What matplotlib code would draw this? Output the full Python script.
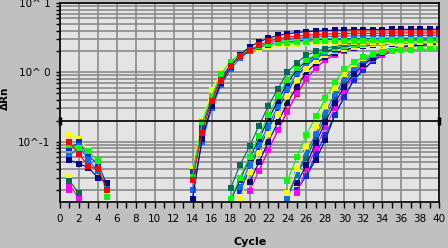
import numpy as np
import matplotlib
matplotlib.use('Agg')
import matplotlib.pyplot as plt
from matplotlib.ticker import MultipleLocator, FixedLocator, LogLocator, NullFormatter

# amplification data (delta Rn per cycle)
cycles = np.arange(1, 41)
threshold = 0.2

navy = '#000080'
red = '#ff0000'
green = '#00ff00'
dodger = '#0070ff'
blue = '#0030d0'
yellow = '#ffff00'
magenta = '#ff00ff'
teal = '#006a5a'

# early noise, cycles 1..5
early_a1 = [0.054, 0.048, 0.042, 0.030, 0.025]
early_a2 = [0.097, 0.066, 0.044, 0.040, 0.020]
early_a3 = [0.090, 0.080, 0.073, 0.052, 0.016]
early_a4 = [0.062, 0.085, 0.055, 0.037, 0.022]
early_a5 = [0.080, 0.097, 0.061, 0.048, 0.023]
early_a6 = [0.126, 0.110, 0.075, 0.050, None]
early_b1 = [0.027, 0.018, None, None, None]
early_b6 = [0.024, 0.0148, None, None, None]
early_c2 = [0.032, 0.012, None, None, None]
early_c6 = [0.020, None, None, None, None]

# group A, from cycle 14
a_start = 14
a1 = [0.015, 0.11, 0.33, 0.70, 1.20, 1.80, 2.30, 2.75, 3.10, 3.40, 3.60, 3.75, 3.85, 3.95,
      4.00, 4.05, 4.08, 4.10, 4.12, 4.13, 4.14, 4.15, 4.16, 4.17, 4.18, 4.18, 4.19]
a2 = [0.028, 0.135, 0.39, 0.75, 1.22, 1.72, 2.08, 2.45, 2.80, 3.05, 3.20, 3.32, 3.42, 3.50,
      3.55, 3.60, 3.62, 3.65, 3.66, 3.64, 3.68, 3.67, 3.69, 3.70, 3.68, 3.70, 3.71]
a3 = [0.031, 0.19, 0.45, 0.95, 1.42, 1.85, 2.15, 2.38, 2.52, 2.62, 2.68, 2.73, 2.76, 2.79,
      2.81, 2.83, 2.85, 2.86, 2.87, 2.88, 2.89, 2.90, 2.90, 2.91, 2.92, 2.92, 2.93]
a4 = [0.020, 0.10, 0.30, 0.65, 1.10, 1.60, 2.00, 2.35, 2.65, 2.85, 3.00, 3.10, 3.18, 3.24,
      3.28, 3.31, 3.33, 3.35, 3.36, 3.37, 3.38, 3.39, 3.40, 3.40, 3.41, 3.41, 3.42]
a5 = [0.036, 0.16, 0.42, 0.82, 1.28, 1.70, 2.02, 2.30, 2.50, 2.65, 2.76, 2.84, 2.90, 2.95,
      2.99, 3.02, 3.04, 3.06, 3.07, 3.08, 3.09, 3.10, 3.11, 3.11, 3.12, 3.12, 3.13]
a6 = [0.040, 0.20, 0.55, 0.98, 1.40, 1.75, 2.00, 2.20, 2.35, 2.45, 2.52, 2.57, 2.61, 2.64,
      2.66, 2.68, 2.69, 2.70, 2.71, 2.72, 2.72, 2.73, 2.73, 2.74, 2.74, 2.75, 2.75]

# group B
b1_start, b1 = 18, [0.021, 0.046, 0.085, 0.17, 0.33, 0.58, 1.00, 1.38, 1.76, 2.00, 2.20, 2.38,
                    2.52, 2.63, 2.72, 2.79, 2.84, 2.88, 2.91, 2.93, 2.95, 2.96, 2.97]
b2_start, b2 = 18, [0.015, 0.030, 0.060, 0.12, 0.24, 0.45, 0.78, 1.15, 1.50, 1.80, 2.05, 2.25,
                    2.40, 2.50, 2.58, 2.64, 2.68, 2.71, 2.73, 2.75, 2.76, 2.77, 2.78]
b8_start, b8 = 18, [0.014, 0.028, 0.057, 0.11, 0.21, 0.39, 0.70, 1.10, 1.45, 1.75, 2.00, 2.20,
                    2.36, 2.48, 2.57, 2.63, 2.68, 2.72, 2.75, 2.77, 2.79, 2.80, 2.81]
b3_start, b3 = 19, [0.022, 0.046, 0.09, 0.17, 0.33, 0.58, 0.97, 1.35, 1.65, 1.90, 2.12, 2.30,
                    2.44, 2.55, 2.63, 2.69, 2.74, 2.78, 2.81, 2.83, 2.85, 2.86]
b4_start, b4 = 19, [0.015, 0.036, 0.068, 0.13, 0.25, 0.45, 0.77, 1.12, 1.45, 1.75, 2.00, 2.20,
                    2.35, 2.45, 2.53, 2.58, 2.62, 2.65, 2.67, 2.69, 2.70, 2.71]
b7_start, b7 = 19, [0.019, 0.040, 0.08, 0.15, 0.29, 0.52, 0.88, 1.25, 1.60, 1.90, 2.15, 2.35,
                    2.50, 2.60, 2.68, 2.74, 2.78, 2.81, 2.83, 2.85, 2.86, 2.87]
b5_start, b5 = 20, [0.026, 0.05, 0.10, 0.19, 0.36, 0.62, 1.00, 1.35, 1.65, 1.90, 2.10, 2.25,
                    2.37, 2.46, 2.53, 2.58, 2.62, 2.65, 2.67, 2.69, 2.70]
b6_start, b6 = 20, [0.019, 0.038, 0.076, 0.145, 0.27, 0.50, 0.80, 1.15, 1.50, 1.80, 2.05, 2.25,
                    2.40, 2.50, 2.58, 2.64, 2.68, 2.71, 2.73, 2.75, 2.76]
b9_start, b9 = 21, [0.038, 0.076, 0.145, 0.28, 0.48, 0.80, 1.15, 1.50, 1.82, 2.10, 2.32, 2.50,
                    2.62, 2.72, 2.79, 2.84, 2.88, 2.90, 2.92, 2.93]

# group C
c1_start, c1 = 24, [0.027, 0.060, 0.126, 0.23, 0.42, 0.72, 1.10, 1.40, 1.65, 1.85, 1.98, 2.06,
                    2.10, 2.13, 2.15, 2.16, 2.17]
c2_start, c2 = 24, [0.018, 0.040, 0.085, 0.17, 0.33, 0.60, 0.95, 1.30, 1.60, 1.85, 2.02, 2.15,
                    2.22, 2.27, 2.30, 2.32, 2.33]
c3_start, c3 = 24, [0.015, 0.033, 0.068, 0.13, 0.26, 0.48, 0.80, 1.15, 1.50, 1.80, 2.05, 2.25,
                    2.38, 2.47, 2.53, 2.57, 2.60]
c7_start, c7 = 24, [0.016, 0.035, 0.057, 0.115, 0.22, 0.42, 0.70, 1.05, 1.40, 1.70, 1.95, 2.15,
                    2.30, 2.40, 2.47, 2.52, 2.55]
c4_start, c4 = 25, [0.025, 0.046, 0.096, 0.19, 0.36, 0.62, 0.95, 1.30, 1.62, 1.90, 2.12, 2.28,
                    2.40, 2.48, 2.53, 2.57]
c5_start, c5 = 25, [0.020, 0.032, 0.065, 0.126, 0.24, 0.44, 0.77, 1.07, 1.45, 1.75, 2.00, 2.20,
                    2.35, 2.45, 2.52, 2.56]
c6_start, c6 = 25, [0.018, 0.040, 0.080, 0.16, 0.30, 0.55, 0.90, 1.25, 1.55, 1.80, 2.00, 2.15,
                    2.25, 2.32, 2.36, 2.39]
c8_start, c8 = 26, [0.032, 0.055, 0.105, 0.24, 0.44, 0.77, 1.10, 1.45, 1.75, 2.00, 2.20, 2.35,
                    2.45, 2.52, 2.56]


def make_well(start, values, early=None):
    # full 40 cycle trace, NaN where nothing is plotted
    y = np.full(len(cycles), np.nan)
    if early is not None:
        for i, v in enumerate(early):
            if v is not None:
                y[i] = v
    y[start - 1:start - 1 + len(values)] = values
    return y


wells = [
    (c8_start, c8, None, navy),
    (c5_start, c5, None, blue),
    (c7_start, c7, None, teal),
    (c6_start, c6, early_c6, magenta),
    (c4_start, c4, None, navy),
    (c3_start, c3, None, dodger),
    (c2_start, c2, early_c2, yellow),
    (c1_start, c1, None, green),
    (b9_start, b9, None, red),
    (b6_start, b6, early_b6, magenta),
    (b5_start, b5, None, navy),
    (b7_start, b7, None, blue),
    (b4_start, b4, None, yellow),
    (b3_start, b3, None, dodger),
    (b8_start, b8, None, navy),
    (b2_start, b2, None, green),
    (b1_start, b1, early_b1, teal),
    (a_start, a6, early_a6, yellow),
    (a_start, a5, early_a5, blue),
    (a_start, a4, early_a4, dodger),
    (a_start, a3, early_a3, green),
    (a_start, a1, early_a1, navy),
    (a_start, a2, early_a2, red),
]

fig = plt.figure(figsize=(4.48, 2.48), dpi=100)
fig.patch.set_facecolor('#c0c0c0')
ax = fig.add_axes([60 / 448, 46 / 248, 379 / 448, 199 / 248])
ax.set_facecolor('#e4e4e4')

for start, values, early, color in wells:
    ax.plot(cycles, make_well(start, values, early), color=color, lw=0.8,
            marker='s', ms=5, mew=0)

# threshold line with the little handles on both ends
ax.plot([0, 40], [threshold, threshold], color='black', lw=1.1, zorder=5)
ax.plot([0, 40], [threshold, threshold], ls='none', marker='|', ms=6, mew=2.5,
        color='black', clip_on=False, zorder=6)

ax.set_yscale('log')
ax.set_xlim(0, 40)
ax.set_ylim(0.0134, 10)

ax.xaxis.set_major_locator(MultipleLocator(2))
ax.xaxis.set_minor_locator(MultipleLocator(1))
ax.yaxis.set_major_locator(FixedLocator([0.1, 1, 10]))
ax.set_yticklabels(['10^-1', '10^ 0', '10^ 1'])
ax.yaxis.set_minor_locator(LogLocator(base=10, subs=np.arange(2, 10)))
ax.yaxis.set_minor_formatter(NullFormatter())

ax.grid(True, which='major', axis='x', color='#8a8a8a', lw=1.2)
ax.grid(True, which='both', axis='y', color='#8a8a8a', lw=1.2)
ax.set_axisbelow(True)

ax.tick_params(axis='both', which='both', direction='out', color='black', width=1,
               labelsize=7.5, labelcolor='black')
ax.tick_params(axis='x', which='both', length=4, pad=5)
ax.tick_params(axis='y', which='both', length=3, pad=4)
for s in ax.spines.values():
    s.set_color('black')
    s.set_linewidth(1.2)

fig.text(5 / 448, 1 - 98 / 248, 'ΔRn', rotation=90, ha='center', va='center',
         fontsize=7.5, fontweight='bold')
fig.text(250 / 448, 1 - 242 / 248, 'Cycle', ha='center', va='center',
         fontsize=8, fontweight='bold')

plt.savefig('out.png', dpi=100, facecolor=fig.get_facecolor())
